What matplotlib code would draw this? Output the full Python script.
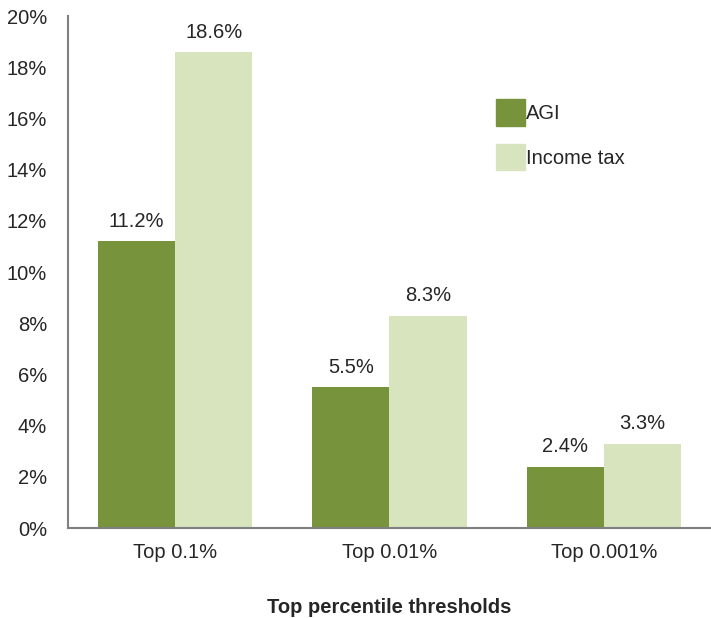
import numpy as np
import matplotlib.pyplot as plt
from matplotlib.patches import Patch

plt.rcParams['font.family'] = ['Liberation Sans', 'DejaVu Sans']

categories = ["Top 0.1%", "Top 0.01%", "Top 0.001%"]
agi = [11.2, 5.5, 2.4]
income_tax = [18.6, 8.3, 3.3]

agi_color = "#77933C"
tax_color = "#D7E4BD"
text_color = "#262626"
fs = 14.5

fig = plt.figure(figsize=(7.11, 6.18), dpi=100)
ax = fig.add_axes([0.0956, 0.1456, 0.9044, 0.8285])

x = np.arange(len(categories))
w = 0.36
ax.bar(x - w / 2, agi, width=w, color=agi_color)
ax.bar(x + w / 2, income_tax, width=w, color=tax_color)

for xi, v in zip(x - w / 2, agi):
    ax.text(xi, v + 0.4, f"{v:.1f}%", ha="center", va="bottom",
            fontsize=fs, color=text_color)
for xi, v in zip(x + w / 2, income_tax):
    ax.text(xi, v + 0.4, f"{v:.1f}%", ha="center", va="bottom",
            fontsize=fs, color=text_color)

ax.set_xlim(-0.5, 2.5)
ax.set_ylim(0, 20)
ax.set_yticks(range(0, 21, 2))
ax.set_yticklabels([f"{t}%" for t in range(0, 21, 2)])
ax.set_xticks(x)
ax.set_xticklabels(categories)
ax.tick_params(length=0, labelsize=fs, labelcolor=text_color)
ax.tick_params(axis="y", pad=15)
ax.tick_params(axis="x", pad=11)

for s in ["top", "right"]:
    ax.spines[s].set_visible(False)
for s in ["left", "bottom"]:
    ax.spines[s].set_color("#808080")
    ax.spines[s].set_linewidth(1.5)

ax.set_xlabel("Top percentile thresholds", fontsize=fs, fontweight="bold",
              color=text_color, labelpad=26)

handles = [Patch(color=agi_color), Patch(color=tax_color)]
fig.legend(handles, ["AGI", "Income tax"], loc="upper left",
           bbox_to_anchor=(0.683, 0.856), frameon=False, fontsize=fs,
           handlelength=1.45, handleheight=1.65, handletextpad=0.05,
           labelspacing=0.9, borderpad=0, labelcolor=text_color)

fig.savefig("out.png", dpi=100)
